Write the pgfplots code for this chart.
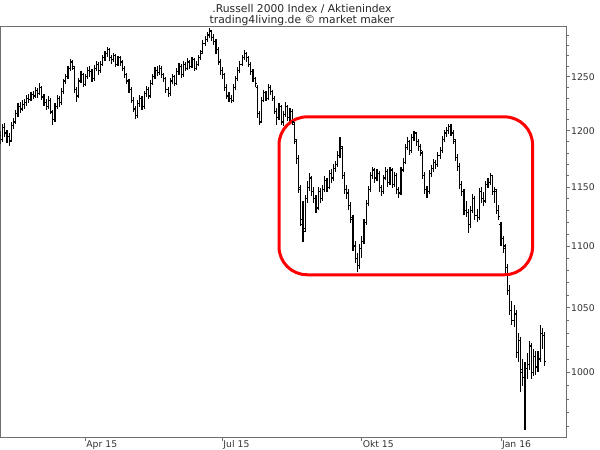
\documentclass[border=0pt]{standalone}
\usepackage{fontspec}
\setmainfont{DejaVu Sans}
\usepackage{pgfplots}
\pgfplotsset{compat=1.18}
\usepackage{pgfplotstable}
\pgfdeclareplotmark{otick}{\pgfpathmoveto{\pgfqpoint{-1.6bp}{0pt}}\pgfpathlineto{\pgfqpoint{0pt}{0pt}}\pgfusepathqstroke}
\pgfdeclareplotmark{ctick}{\pgfpathmoveto{\pgfqpoint{0pt}{0pt}}\pgfpathlineto{\pgfqpoint{1.6bp}{0pt}}\pgfusepathqstroke}
\definecolor{axgray}{RGB}{110,110,110}
\pgfplotstableread{
x o h l c
2 1196 1200 1188 1192
3 1192 1206 1190 1203
4 1203 1207 1194 1198
5 1198 1201 1189 1195
6 1195 1198 1186 1190
7 1191 1208 1190 1205
8 1205 1212 1202 1208
9 1208 1219 1206 1216
10 1216 1225 1213 1222
11 1222 1226 1216 1220
12 1220 1228 1218 1224
13 1224 1229 1220 1226
14 1226 1233 1223 1230
15 1230 1234 1225 1229
16 1229 1236 1227 1233
17 1233 1237 1229 1232
18 1232 1240 1230 1237
19 1237 1239 1230 1234
20 1234 1244 1233 1240
21 1240 1241 1228 1231
22 1231 1234 1223 1226
23 1226 1229 1219 1222
24 1222 1232 1220 1228
25 1228 1230 1215 1218
26 1217 1219 1205 1210
27 1210 1225 1208 1222
28 1222 1233 1220 1230
29 1230 1232 1222 1226
30 1226 1239 1224 1236
31 1236 1248 1234 1246
32 1246 1253 1243 1250
33 1250 1260 1248 1258
34 1258 1267 1255 1264
35 1264 1266 1256 1260
36 1258 1260 1235 1238
37 1238 1240 1226 1232
38 1232 1249 1230 1246
39 1246 1255 1244 1252
40 1252 1254 1240 1243
41 1243 1253 1241 1250
42 1250 1259 1248 1256
43 1256 1260 1250 1255
44 1255 1257 1245 1248
45 1248 1261 1246 1258
46 1258 1265 1255 1262
47 1262 1264 1252 1256
48 1256 1265 1254 1262
49 1262 1271 1260 1268
50 1268 1275 1265 1272
51 1272 1278 1269 1276
52 1276 1277 1265 1268
53 1268 1271 1262 1266
54 1266 1273 1264 1270
55 1270 1272 1259 1262
56 1262 1270 1260 1268
57 1268 1270 1260 1264
58 1264 1266 1255 1258
59 1258 1260 1249 1252
60 1252 1254 1243 1246
61 1246 1248 1235 1238
62 1238 1240 1225 1228
63 1228 1231 1217 1220
64 1220 1223 1211 1214
65 1214 1228 1212 1225
66 1225 1233 1222 1230
67 1230 1232 1219 1222
68 1222 1237 1220 1234
69 1234 1241 1231 1238
70 1238 1240 1229 1232
71 1232 1247 1230 1244
72 1244 1253 1242 1250
73 1250 1259 1248 1256
74 1256 1260 1251 1254
75 1254 1261 1252 1258
76 1258 1260 1249 1252
77 1252 1254 1245 1248
78 1248 1250 1235 1238
79 1238 1240 1231 1234
80 1234 1249 1232 1246
81 1246 1253 1243 1250
82 1250 1252 1241 1244
83 1244 1258 1242 1255
84 1255 1263 1252 1260
85 1260 1262 1249 1252
86 1252 1265 1250 1262
87 1262 1264 1255 1258
88 1258 1268 1256 1264
89 1264 1266 1257 1260
90 1260 1269 1258 1266
91 1266 1268 1255 1258
92 1258 1265 1256 1262
93 1262 1271 1260 1268
94 1268 1276 1266 1272
95 1274 1285 1272 1282
96 1282 1289 1279 1286
97 1286 1293 1283 1290
98 1290 1297 1287 1294
99 1294 1295 1284 1288
100 1288 1291 1280 1284
101 1284 1286 1272 1276
102 1276 1278 1261 1264
103 1264 1267 1252 1256
104 1256 1259 1248 1252
105 1252 1254 1237 1240
106 1240 1243 1229 1232
107 1232 1236 1226 1230
108 1230 1233 1225 1228
109 1228 1243 1226 1240
110 1240 1251 1238 1248
111 1248 1259 1246 1256
112 1256 1265 1254 1262
113 1262 1271 1260 1268
114 1268 1276 1266 1272
115 1272 1274 1264 1268
116 1268 1270 1259 1262
117 1262 1264 1252 1255
118 1255 1257 1245 1248
119 1248 1250 1240 1244
120 1240 1242 1212 1216
121 1216 1218 1205 1208
122 1208 1231 1207 1228
123 1228 1238 1226 1235
124 1235 1237 1227 1230
125 1230 1243 1228 1240
126 1240 1242 1233 1236
127 1236 1238 1227 1230
128 1230 1232 1215 1218
129 1218 1221 1205 1212
130 1212 1225 1210 1222
131 1222 1224 1205 1208
132 1208 1218 1204 1215
133 1215 1226 1213 1222
134 1222 1224 1209 1212
135 1212 1221 1208 1218
136 1218 1220 1205 1208
137 1206 1208 1188 1192
138 1190 1193 1170 1175
139 1175 1178 1145 1150
140 1148 1152 1117 1122
141 1118 1138 1103 1112
142 1115 1143 1112 1140
143 1140 1155 1136 1150
144 1150 1162 1147 1158
145 1158 1160 1142 1146
146 1146 1150 1136 1140
147 1140 1143 1128 1132
148 1132 1150 1130 1146
149 1146 1149 1136 1140
150 1140 1152 1138 1148
151 1148 1160 1146 1156
152 1156 1158 1146 1150
153 1150 1165 1148 1162
154 1162 1166 1154 1158
155 1158 1170 1155 1166
156 1166 1173 1163 1170
157 1170 1182 1168 1178
158 1178 1194 1176 1186
159 1184 1186 1157 1160
160 1160 1163 1144 1148
161 1148 1152 1140 1145
162 1145 1148 1130 1134
163 1134 1137 1119 1124
164 1122 1126 1096 1100
165 1100 1104 1086 1090
166 1090 1094 1079 1084
167 1084 1102 1081 1098
168 1098 1108 1090 1104
169 1104 1123 1102 1120
170 1120 1139 1118 1136
171 1136 1151 1134 1148
172 1148 1163 1146 1160
173 1160 1168 1157 1165
174 1165 1167 1154 1158
175 1158 1166 1155 1162
176 1162 1164 1146 1150
177 1150 1152 1142 1146
178 1146 1161 1144 1158
179 1158 1168 1156 1164
180 1164 1166 1150 1154
181 1154 1168 1152 1165
182 1165 1167 1149 1152
183 1152 1163 1150 1160
184 1160 1162 1144 1148
185 1148 1150 1141 1145
186 1145 1168 1143 1165
187 1165 1176 1163 1172
188 1172 1188 1170 1185
189 1185 1194 1183 1190
190 1190 1192 1178 1182
191 1182 1197 1180 1194
192 1194 1200 1191 1198
193 1198 1199 1186 1190
194 1190 1193 1182 1186
195 1186 1188 1177 1182
196 1180 1182 1157 1160
197 1160 1163 1144 1148
198 1148 1151 1141 1146
199 1146 1165 1144 1162
200 1162 1169 1159 1166
201 1166 1175 1163 1172
202 1172 1174 1166 1170
203 1170 1181 1168 1178
204 1178 1185 1175 1182
205 1182 1195 1180 1192
206 1192 1201 1190 1198
207 1198 1203 1194 1200
208 1200 1206 1197 1204
209 1204 1206 1195 1198
210 1198 1201 1188 1192
211 1190 1193 1173 1176
212 1176 1179 1164 1168
213 1168 1171 1148 1152
214 1152 1155 1142 1146
215 1146 1148 1126 1130
216 1130 1138 1124 1128
217 1128 1131 1111 1118
218 1118 1134 1115 1130
219 1130 1144 1128 1140
220 1140 1142 1122 1126
221 1126 1131 1120 1124
222 1124 1149 1122 1146
223 1146 1150 1136 1140
224 1140 1146 1134 1138
225 1138 1155 1136 1152
226 1152 1158 1149 1154
227 1154 1162 1152 1160
228 1160 1161 1143 1146
229 1146 1150 1136 1148
230 1146 1148 1127 1130
231 1130 1135 1122 1125
232 1118 1120 1100 1106
233 1106 1108 1094 1100
234 1098 1102 1078 1082
235 1082 1085 1060 1064
236 1064 1068 1044 1048
237 1048 1055 1036 1040
238 1040 1052 1035 1045
239 1045 1048 1011 1015
240 1015 1030 1008 1024
241 1024 1027 985 1002
242 1000 1010 990 996
243 996 1008 957 1003
244 1003 1015 995 1006
245 1006 1024 1002 1020
246 1020 1022 995 1000
247 1000 1018 997 1012
248 1012 1016 998 1004
249 1004 1016 1000 1010
250 1010 1036 1008 1030
251 1030 1034 1018 1028
252 1028 1031 1005 1008
}\ohlc
\begin{document}
\begin{tikzpicture}
\useasboundingbox (-0.5bp,-12.5bp) rectangle (599.5bp,437.5bp);
\begin{axis}[at={(0,0)}, anchor=south west, scale only axis,
  width=565.5bp, height=410.5bp,
  xmin=1.98, xmax=261.86, ymode=log, ymin=952, ymax=1298,
  axis line style={axgray, line width=0.8bp},
  xtick={41,104,168,232}, xticklabels={Apr 15,Jul 15,Okt 15,Jan 16},
  xtick pos=bottom, ytick pos=right, yticklabel pos=right,
  ytick={1000,1050,1100,1150,1200,1250},
  yticklabels={1000,1050,1100,1150,1200,1250},
  minor ytick={960,970,980,990,1010,1020,1030,1040,1060,1070,1080,1090,1110,1120,1130,1140,1160,1170,1180,1190,1210,1220,1230,1240,1260,1270,1280,1290},
  tick align=outside, major tick length=3.5bp, minor tick length=2.5bp,
  tick style={axgray, line width=0.8bp},
  ticklabel style={font=\fontsize{9.3}{10}\selectfont, text=black!80},
  xticklabel style={anchor=north west, inner xsep=0pt, inner ysep=0pt, yshift=0.8bp, xshift=0.8bp},
  yticklabel style={anchor=west, inner xsep=0pt, xshift=1.5bp},
]
\addplot[black, line width=1.15bp, only marks, mark=ctick,
  error bars/.cd, y dir=both, y explicit, error mark=none,
  error bar style={black, line width=1.15bp}]
  table[x=x, y=c, y error plus expr=\thisrow{h}-\thisrow{c}, y error minus expr=\thisrow{c}-\thisrow{l}] {\ohlc};
\addplot[black, line width=1.15bp, only marks, mark=otick] table[x=x, y=o] {\ohlc};
\draw[red, line width=3bp, rounded corners=28bp] (axis cs:129.97,1212.7) rectangle (axis cs:246.5,1076.4);
\end{axis}
\node[anchor=base, font=\fontsize{10.8}{12}\selectfont, text=black!85] at (301.5bp,425.2bp) {.Russell 2000 Index / Aktienindex};
\node[anchor=base, font=\fontsize{10.8}{12}\selectfont, text=black!85] at (301.5bp,413.7bp) {trading4living.de © market maker};
\end{tikzpicture}
\end{document}
